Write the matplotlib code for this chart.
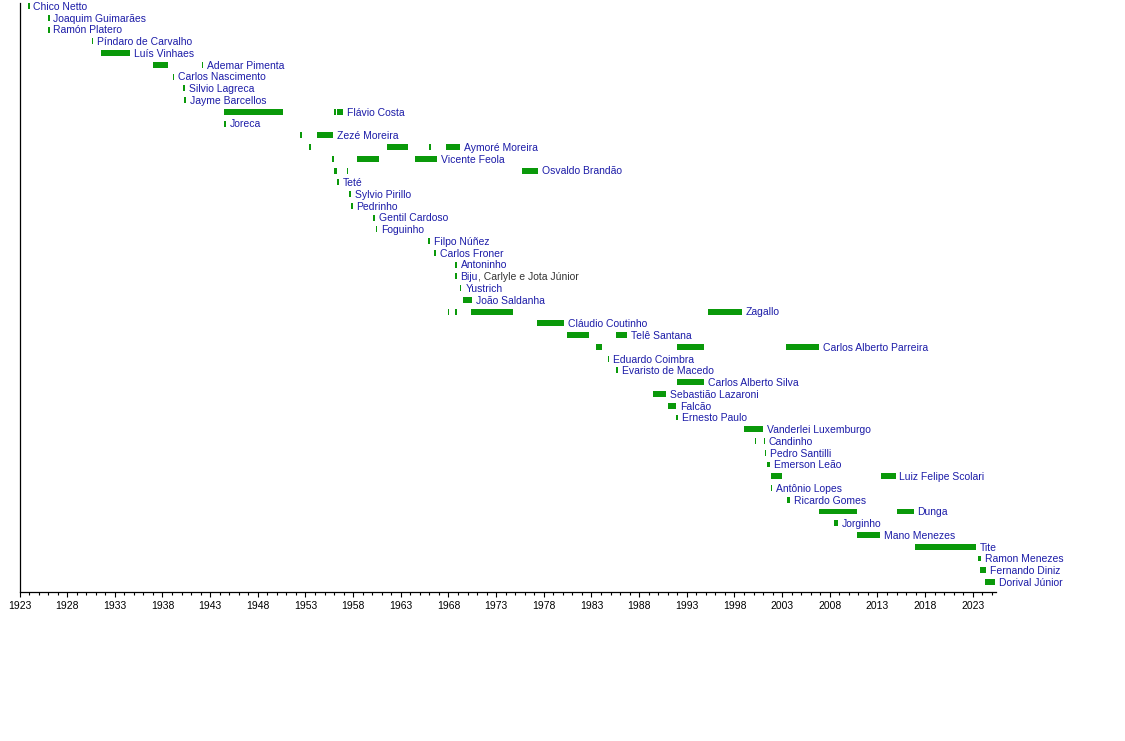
import matplotlib
matplotlib.use("Agg")
import matplotlib.pyplot as plt
from matplotlib.ticker import MultipleLocator

# Técnicos da seleção, de cima para baixo
coaches = [
    "Chico Netto", "Joaquim Guimarães", "Ramón Platero", "Píndaro de Carvalho",
    "Luís Vinhaes", "Ademar Pimenta", "Carlos Nascimento", "Silvio Lagreca",
    "Jayme Barcellos", "Flávio Costa", "Joreca", "Zezé Moreira",
    "Aymoré Moreira", "Vicente Feola", "Osvaldo Brandão", "Teté",
    "Sylvio Pirillo", "Pedrinho", "Gentil Cardoso", "Foguinho",
    "Filpo Núñez", "Carlos Froner", "Antoninho", "Biju",
    "Yustrich", "João Saldanha", "Zagallo", "Cláudio Coutinho",
    "Telê Santana", "Carlos Alberto Parreira", "Eduardo Coimbra", "Evaristo de Macedo",
    "Carlos Alberto Silva", "Sebastião Lazaroni", "Falcão", "Ernesto Paulo",
    "Vanderlei Luxemburgo", "Candinho", "Pedro Santilli", "Emerson Leão",
    "Luiz Felipe Scolari", "Antônio Lopes", "Ricardo Gomes", "Dunga",
    "Jorginho", "Mano Menezes", "Tite", "Ramon Menezes",
    "Fernando Diniz", "Dorival Júnior",
]

# Passagens (técnico, início, fim) em anos decimais
spell_coach = [
    "Chico Netto", "Joaquim Guimarães", "Ramón Platero", "Píndaro de Carvalho",
    "Luís Vinhaes", "Ademar Pimenta", "Ademar Pimenta", "Carlos Nascimento",
    "Silvio Lagreca", "Jayme Barcellos", "Flávio Costa", "Flávio Costa",
    "Flávio Costa", "Joreca", "Zezé Moreira", "Zezé Moreira",
    "Aymoré Moreira", "Aymoré Moreira", "Aymoré Moreira", "Aymoré Moreira",
    "Vicente Feola", "Vicente Feola", "Vicente Feola",
    "Osvaldo Brandão", "Osvaldo Brandão", "Osvaldo Brandão",
    "Teté", "Sylvio Pirillo", "Pedrinho", "Gentil Cardoso", "Foguinho",
    "Filpo Núñez", "Carlos Froner", "Antoninho", "Biju", "Yustrich",
    "João Saldanha", "Zagallo", "Zagallo", "Zagallo", "Zagallo",
    "Cláudio Coutinho", "Telê Santana", "Telê Santana",
    "Carlos Alberto Parreira", "Carlos Alberto Parreira", "Carlos Alberto Parreira",
    "Eduardo Coimbra", "Evaristo de Macedo", "Carlos Alberto Silva",
    "Sebastião Lazaroni", "Falcão", "Ernesto Paulo", "Vanderlei Luxemburgo",
    "Candinho", "Candinho", "Pedro Santilli", "Emerson Leão",
    "Luiz Felipe Scolari", "Luiz Felipe Scolari", "Antônio Lopes", "Ricardo Gomes",
    "Dunga", "Dunga", "Jorginho", "Mano Menezes", "Tite",
    "Ramon Menezes", "Fernando Diniz", "Dorival Júnior",
]
spell_start = [
    1923.9, 1926.0, 1926.0, 1930.6,
    1931.55, 1937.0, 1942.1, 1939.1,
    1940.2, 1940.3, 1944.5, 1956.0,
    1956.35, 1944.5, 1952.4, 1954.2,
    1953.4, 1961.5, 1966.0, 1967.7,
    1955.8, 1958.4, 1964.5,
    1956.0, 1957.35, 1975.7,
    1956.35, 1957.6, 1957.8, 1960.05, 1960.4,
    1965.9, 1966.5, 1968.7, 1968.7, 1969.2,
    1969.5, 1967.9, 1968.7, 1970.4, 1995.25,
    1977.3, 1980.45, 1985.6,
    1983.5, 1992.0, 2003.4,
    1984.7, 1985.6, 1992.0,
    1989.4, 1991.0, 1991.9, 1998.95,
    2000.1, 2001.05, 2001.15, 2001.4,
    2001.8, 2013.4, 2001.8, 2003.5,
    2006.9, 2015.0, 2008.4, 2010.9, 2016.97,
    2023.5, 2023.8, 2024.3,
]
spell_end = [
    1924.05, 1926.15, 1926.15, 1930.75,
    1934.6, 1938.6, 1942.3, 1939.25,
    1940.35, 1940.45, 1950.6, 1956.15,
    1956.9, 1944.65, 1952.6, 1955.9,
    1953.6, 1963.7, 1966.15, 1969.2,
    1955.95, 1960.7, 1966.8,
    1956.3, 1957.5, 1977.4,
    1956.5, 1957.75, 1957.95, 1960.25, 1960.55,
    1966.05, 1966.65, 1968.85, 1968.85, 1969.35,
    1970.5, 1968.05, 1968.85, 1974.75, 1998.8,
    1980.1, 1982.76, 1986.7,
    1984.1, 1994.8, 2006.9,
    1984.85, 1985.8, 1994.8,
    1990.8, 1991.9, 1992.05, 2001.0,
    2000.25, 2001.2, 2001.3, 2001.7,
    2003.0, 2014.9, 2001.95, 2003.8,
    2010.85, 2016.8, 2008.9, 2013.26, 2023.3,
    2023.9, 2024.4, 2025.3,
]

bar_color = "#0a990a"
name_color = "#1c1ca8"

plt.rcParams["font.family"] = ["Liberation Sans", "DejaVu Sans"]

fig = plt.figure(figsize=(11.25, 7.41), dpi=100)
ax = fig.add_axes([19.5 / 1125, (741 - 592) / 741, 976.2 / 1125, 589 / 741])

row_of = {name: i for i, name in enumerate(coaches)}
last_end = {}
for name, s, e in zip(spell_coach, spell_start, spell_end):
    r = row_of[name]
    ax.barh(r, e - s, left=s, height=0.5, color=bar_color, linewidth=0)
    last_end[name] = max(last_end.get(name, 0), e)

# nome à direita da última passagem de cada técnico
for name in coaches:
    t = ax.annotate(name, xy=(last_end[name], row_of[name]), xytext=(2.8, -0.6),
                    textcoords="offset points", va="center", ha="left",
                    fontsize=7.5, color=name_color)
    if name == "Biju":
        ax.annotate(", Carlyle e Jota Júnior", xy=(1, 0), xycoords=t,
                    va="bottom", ha="left", fontsize=7.5, color="#333333")

ax.set_xlim(1923, 2025.4)
ax.set_ylim(49.85, -0.26)
ax.xaxis.set_minor_locator(MultipleLocator(1))
ax.set_xticks([1923 + 5 * k for k in range(21)])
ax.set_xticklabels([str(1923 + 5 * k) for k in range(21)])
ax.tick_params(axis="x", which="major", length=3.6, width=0.8, pad=3, labelsize=7.5,
               colors="black")
ax.tick_params(axis="x", which="minor", length=2.2, width=0.8)
ax.set_yticks([])
for side in ("top", "right"):
    ax.spines[side].set_visible(False)
for side in ("left", "bottom"):
    ax.spines[side].set_linewidth(0.9)

fig.savefig("out.png", dpi=100)
